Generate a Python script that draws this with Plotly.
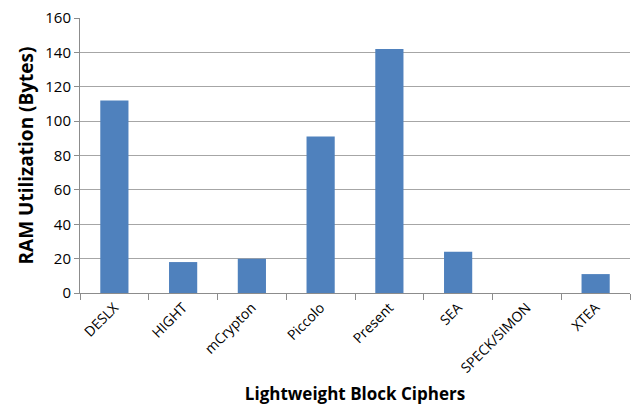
import plotly.graph_objects as go

# RAM usage of lightweight block ciphers
ciphers = ["DESLX", "HIGHT", "mCrypton", "Piccolo", "Present", "SEA", "SPECK/SIMON", "XTEA"]
ram_bytes = [112, 18, 20, 91, 142, 24, 0, 11]
y_ticks = [0, 20, 40, 60, 80, 100, 120, 140, 160]

fig = go.Figure(
    go.Bar(
        x=ciphers,
        y=ram_bytes,
        marker=dict(color="#4F81BD", line=dict(width=0)),
    )
)

fig.update_layout(
    width=635,
    height=410,
    margin=dict(l=80, r=5, t=18, b=117),
    paper_bgcolor="white",
    plot_bgcolor="white",
    bargap=0.59,
    showlegend=False,
    font=dict(family="Open Sans, Liberation Sans, sans-serif", color="#000000"),
)

fig.update_xaxes(
    title=dict(text="<b>Lightweight Block Ciphers</b>", font=dict(size=17), standoff=12),
    tickangle=-45,
    tickfont=dict(size=14),
    showline=True,
    linecolor="#8c8c8c",
    linewidth=1,
    ticks="outside",
    tickson="boundaries",
    ticklen=6,
    tickcolor="#8c8c8c",
    showgrid=False,
)

fig.update_yaxes(
    title=dict(text="<b>RAM Utilization (Bytes)</b>", font=dict(size=19), standoff=6),
    range=[0, 160],
    tickvals=y_ticks,
    tickfont=dict(size=15),
    showline=True,
    linecolor="#8c8c8c",
    linewidth=1,
    ticks="outside",
    ticklen=5,
    tickcolor="#8c8c8c",
    showgrid=True,
    gridcolor="#a6a6a6",
    gridwidth=1,
    zeroline=False,
)

fig.write_html("out.html")
